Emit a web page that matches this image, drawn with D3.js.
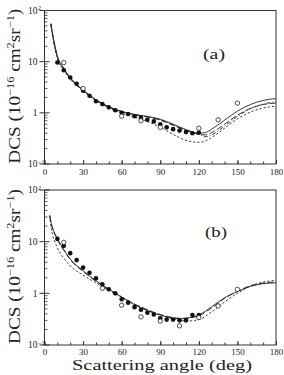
<!DOCTYPE html>
<html><head><meta charset="utf-8">
<script src="https://cdn.jsdelivr.net/npm/d3@7"></script>
<style>body{margin:0;background:#fff}svg{display:block}text{font-family:"Liberation Serif","DejaVu Serif",serif;fill:#222}</style>
</head><body><svg id="c" width="284" height="375"></svg>
<script>
// ---------- data ----------
const xTickLabels = [0, 30, 60, 90, 120, 150, 180];
const yTickValues = [0.1, 1, 10, 100];
const yTickBase = ["10", "1", "10", "10"];
const yTickExp = ["\u22121", "", "", "2"];

// panel (a)
const aFilledX = [10,15,20,25,30,35,40,45,50,55,60,65,70,75,80,85,90,95,100,105,110,115,120];
const aFilledY = [9.6,6.8,4.9,3.7,2.7,2.15,1.68,1.48,1.28,1.12,1.0,0.95,0.86,0.8,0.73,0.68,0.6,0.52,0.48,0.45,0.42,0.4,0.41];
const aOpenX = [15,30,60,75,90,120,135,150];
const aOpenY = [9.6,3.0,0.86,0.7,0.52,0.5,0.73,1.55];
const aCurveX = [5,7,10,15,20,25,30,40,50,60,70,80,90,100,110,120,125,130,140,150,160,170,180];
const aSolid  = [55,28,13,7.4,4.9,3.6,2.8,1.8,1.32,1.07,0.93,0.85,0.75,0.6,0.47,0.4,0.41,0.48,0.72,1.08,1.45,1.75,1.9];
const aLong   = [55,27,12.5,7.2,4.8,3.5,2.75,1.78,1.3,1.05,0.92,0.83,0.72,0.57,0.45,0.38,0.37,0.41,0.6,0.9,1.22,1.45,1.55];
const aDashDot= [55,27,12.5,7.2,4.8,3.5,2.75,1.78,1.3,1.05,0.92,0.84,0.73,0.58,0.46,0.39,0.34,0.37,0.55,0.85,1.2,1.48,1.65];
const aShort  = [50,25,11.5,6.8,4.5,3.4,2.65,1.72,1.26,0.98,0.82,0.68,0.52,0.38,0.29,0.265,0.28,0.33,0.5,0.76,1.03,1.24,1.35];

// panel (b)
const bFilledX = [10,15,20,25,30,35,40,45,50,55,60,65,70,75,80,85,90,95,100,105,110,115,120];
const bFilledY = [11.3,8.3,6.0,4.4,3.15,2.5,1.95,1.5,1.2,1.0,0.77,0.66,0.54,0.48,0.42,0.39,0.33,0.31,0.31,0.3,0.3,0.38,0.38];
const bOpenX = [15,45,60,75,90,105,120,135,150];
const bOpenY = [9.7,1.25,0.59,0.35,0.29,0.235,0.34,0.57,1.19];
const bCurveX = [4,5,10,15,20,30,40,50,60,70,80,90,100,105,110,120,130,140,150,160,170,180];
const bSolid  = [32,24,11.5,7,4.6,2.75,1.75,1.2,0.85,0.6,0.46,0.38,0.33,0.32,0.33,0.38,0.55,0.82,1.08,1.36,1.54,1.6];
const bLong   = [32,24,11,6.8,4.5,2.65,1.72,1.18,0.85,0.62,0.48,0.39,0.34,0.33,0.33,0.37,0.52,0.8,1.1,1.4,1.58,1.65];
const bShort  = [32,20,7.6,4.8,3.4,2.25,1.6,1.15,0.84,0.62,0.48,0.38,0.32,0.3,0.29,0.31,0.44,0.68,1.0,1.38,1.65,1.78];

// ---------- drawing ----------
const svg = d3.select("#c");
const X0 = 44.5, X1 = 276;

function panel(top, bottom, cfg) {
  const x = d3.scaleLinear().domain([0, 180]).range([X0, X1]);
  const y = d3.scaleLog().domain([0.1, 100]).range([bottom, top]);
  const g = svg.append("g");
  const ink = "#333";

  // frame
  g.append("rect").attr("x", X0).attr("y", top).attr("width", X1 - X0).attr("height", bottom - top)
    .attr("fill", "none").attr("stroke", ink).attr("stroke-width", 1);

  // x axis minor + major ticks
  const xa = g.append("g").attr("transform", `translate(0,${bottom})`);
  xa.call(d3.axisBottom(x).tickValues(d3.range(0, 181, 10)).tickSize(-2.5).tickFormat(""));
  const xb = g.append("g").attr("transform", `translate(0,${bottom})`);
  xb.call(d3.axisBottom(x).tickValues(xTickLabels).tickSize(-4).tickPadding(cfg.pad).tickFormat(d => d));
  [xa, xb].forEach(a => { a.select(".domain").remove(); a.selectAll("line").attr("stroke", ink); });
  xb.selectAll("text").attr("font-size", 9).attr("font-family", "Liberation Serif").attr("fill", "#222");

  // y minor ticks
  const minor = [];
  [0.1, 1, 10].forEach(d => { for (let k = 2; k <= 9; k++) minor.push(d * k); });
  g.selectAll(".ym").data(minor).join("line")
    .attr("x1", X0).attr("x2", X0 + 3).attr("y1", d => y(d)).attr("y2", d => y(d))
    .attr("stroke", ink).attr("stroke-width", 0.8);
  g.selectAll(".yM").data(yTickValues).join("line")
    .attr("x1", X0 - 5).attr("x2", X0 + 5).attr("y1", d => y(d)).attr("y2", d => y(d))
    .attr("stroke", ink).attr("stroke-width", 1);
  yTickValues.forEach((v, i) => {
    g.append("text").attr("x", 37.5).attr("y", y(v) + 3.3).attr("text-anchor", "end")
      .attr("font-size", 9.5).text(yTickBase[i]);
    if (yTickExp[i]) g.append("text").attr("x", 38).attr("y", y(v) - 0.5)
      .attr("font-size", 6).text(yTickExp[i]);
  });

  // y title
  const cy = (top + bottom) / 2 - 1;
  const t = g.append("text").attr("transform", `translate(19.5,${cy}) scale(1.2,1) rotate(-90)`)
    .attr("text-anchor", "middle").attr("font-size", 14)
    .attr("textLength", 155).attr("lengthAdjust", "spacingAndGlyphs");
  t.append("tspan").text("DCS  (10");
  t.append("tspan").attr("dy", -5).attr("font-size", 9).text("\u221216");
  t.append("tspan").attr("dy", 5).text(" cm");
  t.append("tspan").attr("dy", -5).attr("font-size", 9).text("2");
  t.append("tspan").attr("dy", 5).text("sr");
  t.append("tspan").attr("dy", -5).attr("font-size", 9).text("\u22121");
  t.append("tspan").attr("dy", 5).text(")");

  // panel label
  g.append("text").attr("x", cfg.labelX).attr("y", cfg.labelY).attr("font-size", 15)
    .attr("font-family", "DejaVu Sans").attr("font-weight", 300)
    .attr("textLength", 22).attr("lengthAdjust", "spacingAndGlyphs").text(cfg.label);

  // curves
  const clip = "clip" + cfg.label.replace(/\W/g, "");
  svg.append("clipPath").attr("id", clip).append("rect")
    .attr("x", X0).attr("y", top).attr("width", X1 - X0).attr("height", bottom - top);
  const line = d3.line().x(d => x(d[0])).y(d => y(d[1])).curve(d3.curveMonotoneX);
  cfg.curves.forEach(c => {
    g.append("path").attr("clip-path", `url(#${clip})`)
      .attr("d", line(cfg.curveX.map((a, i) => [a, c.v[i]])))
      .attr("fill", "none").attr("stroke", "#222").attr("stroke-width", 0.9)
      .attr("stroke-dasharray", c.dash);
  });

  // points
  g.selectAll(".f").data(cfg.filledX.map((a, i) => [a, cfg.filledY[i]])).join("circle")
    .attr("cx", d => x(d[0])).attr("cy", d => y(d[1])).attr("r", 2.3).attr("fill", "#111");
  g.selectAll(".o").data(cfg.openX.map((a, i) => [a, cfg.openY[i]])).join("circle")
    .attr("cx", d => x(d[0])).attr("cy", d => y(d[1])).attr("r", 2.2)
    .attr("fill", "#fff").attr("stroke", "#222").attr("stroke-width", 0.8);
}

panel(10.5, 164, {
  label: "(a)", labelX: 203, labelY: 59, pad: 5,
  curveX: aCurveX,
  curves: [{v: aSolid, dash: null}, {v: aLong, dash: "6,2.5"}, {v: aDashDot, dash: "4,2,1,2"}, {v: aShort, dash: "2.2,2"}],
  filledX: aFilledX, filledY: aFilledY, openX: aOpenX, openY: aOpenY
});
panel(190, 345, {
  label: "(b)", labelX: 205, labelY: 237, pad: 3.5,
  curveX: bCurveX,
  curves: [{v: bSolid, dash: null}, {v: bLong, dash: "6,2.5"}, {v: bShort, dash: "2.2,2"}],
  filledX: bFilledX, filledY: bFilledY, openX: bOpenX, openY: bOpenY
});

svg.append("text").attr("x", 72).attr("y", 370).attr("font-size", 15)
  .attr("textLength", 180).attr("lengthAdjust", "spacingAndGlyphs").text("Scattering angle (deg)");
</script></body></html>
